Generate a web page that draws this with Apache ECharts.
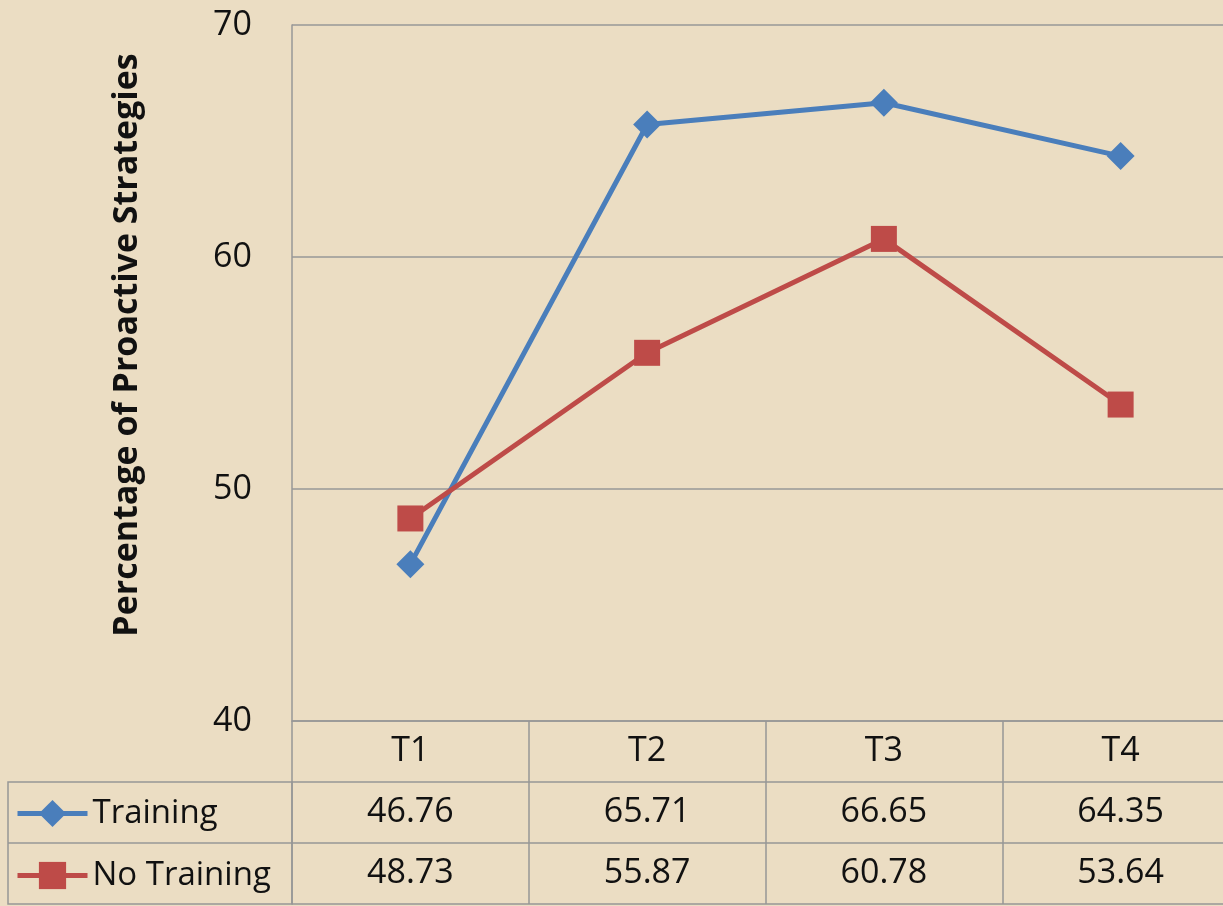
<!DOCTYPE html>
<html>
<head>
<meta charset="utf-8">
<script src="https://cdn.jsdelivr.net/npm/echarts@6/dist/echarts.min.js"></script>
<style>
  html, body { margin: 0; padding: 0; background: #EBDDC3; }
  #chart { width: 1223px; height: 906px; }
</style>
</head>
<body>
<div id="chart"></div>
<script>
const categories = ["T1", "T2", "T3", "T4"];
const training = [46.76, 65.71, 66.65, 64.35];
const noTraining = [48.73, 55.87, 60.78, 53.64];
const yTicks = { min: 40, max: 70, interval: 10 };

const font = "Open Sans";
const gridColor = "#979797";

let chart = echarts.init(document.getElementById("chart"));

// rows of the data table under the plot are extra x axes pushed down
function tableAxis(offset, values) {
  return {
    type: "category",
    data: categories,
    position: "bottom",
    offset: offset,
    boundaryGap: true,
    axisLine: { show: true, lineStyle: { color: gridColor, width: 1.5 } },
    axisTick: { show: false },
    axisLabel: {
      show: !!values,
      margin: 13,
      fontFamily: font,
      fontSize: 34,
      color: "#111",
      formatter: (v, i) => values ? values[i].toFixed(2) : ""
    }
  };
}

chart.setOption({
  backgroundColor: "#EBDDC3",
  animation: false,
  // the last column runs past the right edge of the picture
  grid: { left: 292, top: 25, right: -16, height: 696, outerBoundsMode: "none" },
  legend: {
    orient: "vertical",
    left: 15,
    top: 797,
    padding: 0,
    itemWidth: 70,
    itemHeight: 34,
    itemGap: 29,
    lineStyle: { width: 5 },
    textStyle: { fontFamily: font, fontSize: 33, color: "#111" },
    data: ["Training", "No Training"]
  },
  xAxis: [
    {
      type: "category",
      data: categories,
      boundaryGap: true,
      axisLine: { show: true, lineStyle: { color: gridColor, width: 1.5 } },
      axisTick: {
        show: true,
        interval: 0,
        length: 183,
        lineStyle: { color: gridColor, width: 1.5 }
      },
      axisLabel: { margin: 13, fontFamily: font, fontSize: 34, color: "#111" }
    },
    tableAxis(61, training),
    tableAxis(122, noTraining),
    tableAxis(183, null)
  ],
  yAxis: {
    type: "value",
    min: yTicks.min,
    max: yTicks.max,
    interval: yTicks.interval,
    axisLine: { show: true, lineStyle: { color: gridColor, width: 1.5 } },
    axisTick: { show: false },
    axisLabel: { margin: 40, fontFamily: font, fontSize: 34, color: "#111" },
    splitLine: { lineStyle: { color: gridColor, width: 1.5 } }
  },
  graphic: [
    {
      type: "text",
      x: 127,
      y: 345,
      rotation: Math.PI / 2,
      style: {
        text: "Percentage of Proactive Strategies",
        font: "bold 34px '" + font + "'",
        fill: "#111",
        align: "center",
        verticalAlign: "middle"
      }
    },
    {
      type: "rect",
      shape: { x: 8, y: 782, width: 284, height: 122 },
      style: { fill: "none", stroke: gridColor, lineWidth: 1.5 }
    },
    {
      type: "line",
      shape: { x1: 8, y1: 843, x2: 292, y2: 843 },
      style: { stroke: gridColor, lineWidth: 1.5 }
    }
  ],
  series: [
    {
      name: "Training",
      type: "line",
      data: training,
      symbol: "diamond",
      symbolSize: 28,
      itemStyle: { color: "#4A7EBB" },
      lineStyle: { color: "#4A7EBB", width: 5 }
    },
    {
      name: "No Training",
      type: "line",
      data: noTraining,
      symbol: "rect",
      symbolSize: 26,
      itemStyle: { color: "#BE4B48" },
      lineStyle: { color: "#BE4B48", width: 5 }
    }
  ]
});
</script>
</body>
</html>
